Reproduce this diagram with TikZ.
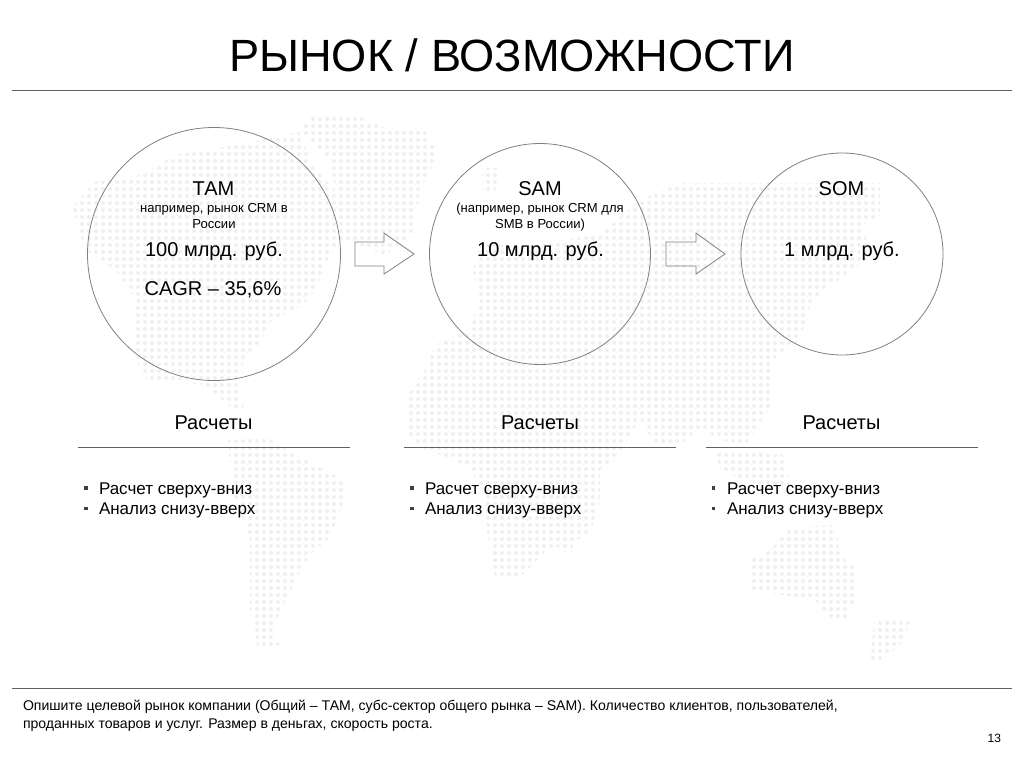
\documentclass[tikz,border=0pt]{standalone}
\usepackage{fontspec}
\setmainfont{Liberation Sans}
\newcommand{\fs}[1]{\fontsize{#1pt}{#1pt}\selectfont}
\tikzset{
  x=0.75pt,y=-0.75pt,
  ring/.style={circle,draw=black!50,line width=0.6pt,inner sep=0pt,fill=none},
  txt/.style={anchor=base,inner sep=0pt,outer sep=0pt,align=center},
  bigt/.style={txt,font=\fs{15}},
  smallt/.style={txt,font=\fs{9.8}},
  calc/.style={txt,font=\fs{15}},
  item/.style={anchor=base west,inner sep=0pt,outer sep=0pt,font=\fs{12.75}},
  foot/.style={anchor=base west,inner sep=0pt,outer sep=0pt,font=\fs{10.55}},
  rulel/.style={draw=black!62,line width=0.75pt},
  sqb/.style={fill=black!75,minimum size=2.4pt,inner sep=0pt,outer sep=0pt},
  blockarrow/.style={draw=black!50,line width=0.6pt,line join=miter},
  mapdots/.style={draw=black!6,line width=3pt,line cap=round,dash pattern=on 0pt off 5.25pt}
}
\begin{document}
\begin{tikzpicture}
\useasboundingbox (0,0) rectangle (1024,768);
\fill[white] (0,0) rectangle (1024,768);
% dotted world map
\begin{scope}
\clip
 (72,207) -- (95,182) -- (145,174) -- (175,155) -- (235,145) -- (300,132) -- (312,165) -- (335,190) -- (345,235) -- (330,255) -- (315,290) -- (303,305) -- (270,322) -- (257,347) -- (243,362) -- (237,385) -- (245,412) -- (228,405) -- (205,385) -- (147,380) -- (137,360) -- (133,320) -- (137,300) -- (115,270) -- (85,250) -- cycle
 (313,114) -- (353,114) -- (385,128) -- (425,130) -- (438,155) -- (420,190) -- (412,235) -- (385,255) -- (345,240) -- (330,160) -- (300,130) -- cycle
 (228,440) -- (268,438) -- (300,457) -- (340,478) -- (347,492) -- (340,512) -- (330,537) -- (310,555) -- (300,572) -- (290,592) -- (280,612) -- (272,632) -- (282,648) -- (258,648) -- (250,610) -- (250,540) -- (232,490) -- cycle
 (473,272) -- (480,240) -- (520,250) -- (560,240) -- (600,235) -- (640,200) -- (680,183) -- (880,183) -- (880,215) -- (862,225) -- (872,255) -- (825,290) -- (812,300) -- (800,340) -- (770,362) -- (770,408) -- (745,445) -- (720,440) -- (700,428) -- (680,445) -- (655,445) -- (640,418) -- (625,445) -- (612,462) -- (600,470) -- (600,500) -- (590,535) -- (545,552) -- (520,577) -- (495,577) -- (487,530) -- (485,495) -- (470,467) -- (420,447) -- (405,432) -- (410,390) -- (427,367) -- (435,345) -- (470,330) -- (480,300) -- cycle
 (790,527) -- (835,525) -- (840,555) -- (857,570) -- (857,595) -- (845,620) -- (830,620) -- (815,600) -- (750,590) -- (750,560) -- (770,550) -- cycle
 (560,525) -- (575,525) -- (572,552) -- (560,552) -- cycle
 (715,450) -- (785,455) -- (790,490) -- (750,482) -- (720,470) -- cycle
 (482,168) -- (500,168) -- (495,192) -- (482,192) -- cycle
 (875,618) -- (910,618) -- (905,640) -- (880,662) -- (870,660) -- cycle;
\foreach \r in {0,...,80}
  \draw[mapdots] (40,{112+7*\r}) -- (930,{112+7*\r});
\end{scope}
% title and rules
\node[txt,font=\fs{33.9}] (title) at (512,71.5) {РЫНОК / ВОЗМОЖНОСТИ};
\coordinate (tl) at (12,90); \coordinate (tr) at (1012,90);
\draw[rulel] (tl) -- (tr);
\coordinate (bl) at (12,688); \coordinate (br) at (1012,688);
\draw[rulel] (bl) -- (br);
% circles
\node[ring,minimum size=189.75pt] (c1) at (214,254) {};
\node[ring,minimum size=165.75pt] (c2) at (540,254) {};
\node[ring,minimum size=151.5pt] (c3) at (842,254) {};
% block arrows
\draw[blockarrow] (355,242) -- (384,242) -- (384,233) -- (414,254) -- (384,274) -- (384,266) -- (355,266) -- cycle;
\draw[blockarrow] (666,242) -- (696,242) -- (696,233) -- (725,254) -- (696,274) -- (696,266) -- (666,266) -- cycle;
% circle texts
\node[bigt] (t1) at (213.5,195) {ТАМ};
\node[smallt] (t1a) at (214,212) {например, рынок CRM в};
\node[smallt] (t1b) at (214,228) {России};
\node[bigt] (t1c) at (214,256.5) {100 млрд. руб.};
\node[bigt] (t1d) at (213,295) {CAGR – 35,6\%};
\node[bigt] (t2) at (540,195) {SAM};
\node[smallt] (t2a) at (540,212) {(например, рынок CRM для};
\node[smallt] (t2b) at (540,228) {SMB в России)};
\node[bigt] (t2c) at (540.5,256.5) {10 млрд. руб.};
\node[bigt] (t3) at (841.5,195) {SOM};
\node[bigt] (t3c) at (842,256.5) {1 млрд. руб.};
% calc columns
\node[calc] (h1) at (213.5,429.5) {Расчеты};
\node[calc] (h2) at (540,429.5) {Расчеты};
\node[calc] (h3) at (841.5,429.5) {Расчеты};
\coordinate (r1a) at (78,447); \coordinate (r1b) at (350,447);
\coordinate (r2a) at (404,447); \coordinate (r2b) at (676,447);
\coordinate (r3a) at (706,447); \coordinate (r3b) at (978,447);
\draw[rulel] (r1a) -- (r1b);
\draw[rulel] (r2a) -- (r2b);
\draw[rulel] (r3a) -- (r3b);
\node[sqb] (b11) at (86,488) {}; \node[sqb] (b12) at (86,508.5) {};
\node[sqb] (b21) at (412,488) {}; \node[sqb] (b22) at (412,508.5) {};
\node[sqb] (b31) at (713.5,488) {}; \node[sqb] (b32) at (713.5,508.5) {};
\node[item] (i11) at (99,494) {Расчет сверху-вниз};
\node[item] (i12) at (99,514) {Анализ снизу-вверх};
\node[item] (i21) at (425,494) {Расчет сверху-вниз};
\node[item] (i22) at (425,514) {Анализ снизу-вверх};
\node[item] (i31) at (727,494) {Расчет сверху-вниз};
\node[item] (i32) at (727,514) {Анализ снизу-вверх};
% footer
\node[foot] (f1) at (23,710) {Опишите целевой рынок компании (Общий – ТАМ, субс-сектор общего рынка – SAM). Количество клиентов, пользователей,};
\node[foot] (f2) at (23,728) {проданных товаров и услуг. Размер в деньгах, скорость роста.};
\node[anchor=base east,inner sep=0pt,outer sep=0pt,font=\fs{9}] (pg) at (1001,742) {13};
\end{tikzpicture}
\end{document}
